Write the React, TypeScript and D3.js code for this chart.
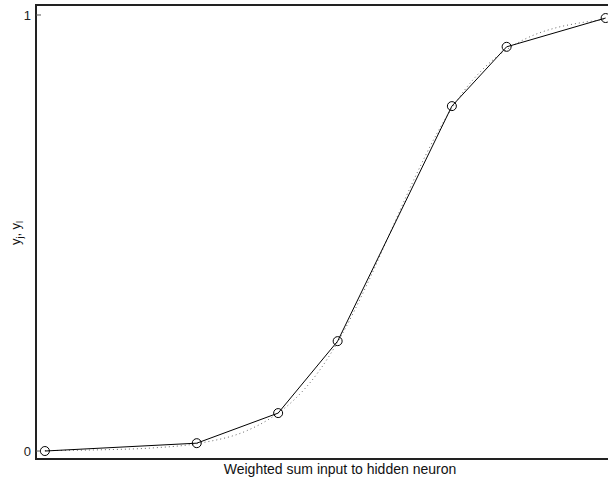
import React from 'react';
import * as d3 from 'd3';

const WIDTH = 608;
const HEIGHT = 480;

// net input of each sample and the output of the neuron
const netInputs = [-7.25, -4.06, -2.35, -1.1, 1.3, 2.45, 4.53];
const outputs = [0.0, 0.018, 0.087, 0.252, 0.791, 0.927, 0.993];

// dotted reference curve
const curveX = [-7.25, -6, -5, -4, -3, -2.5, -2, -1.5, -1, -0.5, 0, 0.5, 1, 1.5, 2, 2.5, 3, 3.5, 4, 4.53];
const curveY = [0.001, 0.003, 0.007, 0.018, 0.047, 0.076, 0.119, 0.182, 0.269, 0.378, 0.5, 0.622, 0.731, 0.818, 0.881, 0.924, 0.953, 0.971, 0.982, 0.99];

const yTicks = [0, 1];
const xLabel = 'Weighted sum input to hidden neuron';

const FONT = 'Liberation Sans, Arial, sans-serif';

const App = () => {
    const left = 36;
    const top = 5;
    const bottom = 459;
    const right = 640; // the frame runs past the cropped edge

    const x = d3.scaleLinear().domain([-7.437, 5.0]).range([left, left + 12.437 * 47.6]);
    const y = d3.scaleLinear().domain([-0.0183, 1.0229]).range([bottom, top]);

    const pts: [number, number][] = netInputs.map((v, i) => [v, outputs[i]]);
    const ref: [number, number][] = curveX.map((v, i) => [v, curveY[i]]);

    const solid = d3
        .line<[number, number]>()
        .x(d => x(d[0]))
        .y(d => y(d[1]));
    const dotted = d3
        .line<[number, number]>()
        .x(d => x(d[0]))
        .y(d => y(d[1]))
        .curve(d3.curveMonotoneX);

    return (
        <svg
            width={WIDTH}
            height={HEIGHT}
            style={{ position: 'absolute', left: 0, top: 0, background: '#fff' }}
            fontFamily={FONT}
        >
            <path d={dotted(ref) ?? ''} fill='none' stroke='#666' strokeWidth={1} strokeDasharray='1,3' />
            <path d={solid(pts) ?? ''} fill='none' stroke='#000' strokeWidth={1} />
            {pts.map((d, i) => (
                <circle key={i} cx={x(d[0])} cy={y(d[1])} r={4.5} fill='none' stroke='#000' strokeWidth={1} />
            ))}

            {/* frame */}
            <line x1={left} x2={left} y1={top} y2={bottom} stroke='#222' strokeWidth={2} />
            <line x1={left - 1} x2={right} y1={top} y2={top} stroke='#222' strokeWidth={2} />
            <line x1={left - 1} x2={right} y1={bottom} y2={bottom} stroke='#222' strokeWidth={2} />

            {yTicks.map(t => (
                <g key={t} transform={`translate(0,${y(t)})`}>
                    <line x1={left} x2={left + 5} stroke='#555' strokeWidth={1} />
                    <text x={left - 5} dy='0.35em' textAnchor='end' fontSize={13} fill='#222'>
                        {t}
                    </text>
                </g>
            ))}

            <text x={340} y={474} textAnchor='middle' fontSize={14} fill='#111'>
                {xLabel}
            </text>
            <text transform='translate(20,233) rotate(-90)' textAnchor='middle' fontSize={13} fill='#111'>
                y<tspan dy={3} fontSize={9}>j</tspan>
                <tspan dy={-3}>, y</tspan>
                <tspan dy={3} fontSize={9}>l</tspan>
            </text>
        </svg>
    );
};

export default App;
